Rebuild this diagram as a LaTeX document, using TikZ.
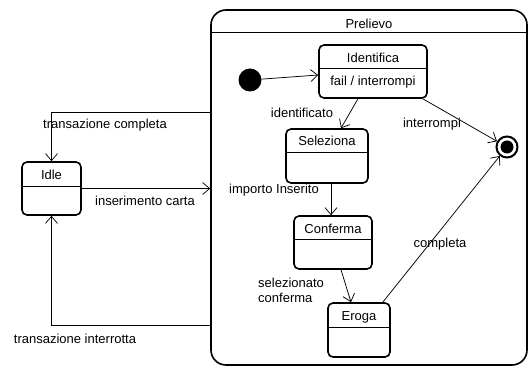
\documentclass[tikz,border=0pt]{standalone}
\usepackage{fontspec}
\setmainfont{Liberation Sans}
\usetikzlibrary{arrows.meta,calc}
\tikzset{
  statebox/.style={draw, line width=1.6pt, rounded corners=5pt, inner sep=0pt},
  sepline/.style={line width=0.7pt},
  trans/.style={draw, line width=0.75pt, -{Straight Barb[length=7pt,width=12pt,line width=0.75pt]}},
  lbl/.style={font=\fontsize{13}{15}\selectfont, inner sep=0pt},
}
\begin{document}
\begin{tikzpicture}[x=1pt,y=-1pt]
\useasboundingbox (0,0) rectangle (528,366);
% composite state
\node[draw, line width=1.6pt, rounded corners=15pt, inner sep=0pt, minimum width=316pt, minimum height=355pt] (prel) at (369,187.5) {};
\draw[sepline] ($(prel.north west)+(0,23)$) -- ($(prel.north east)+(0,23)$);
\node[lbl] (prelT) at (369,24) {Prelievo};
% Idle
\node[statebox, minimum width=59pt, minimum height=53pt] (idle) at (51.5,188.5) {};
\draw[sepline] ($(idle.north west)+(0,25)$) -- ($(idle.north east)+(0,25)$);
\node[lbl] (idleT) at (51.5,175) {Idle};
% Identifica
\node[statebox, minimum width=108pt, minimum height=53pt] (ident) at (373,71.5) {};
\draw[sepline] ($(ident.north west)+(0,24)$) -- ($(ident.north east)+(0,24)$);
\node[lbl] (identT) at (373,58) {Identifica};
\node[lbl] (identB) at (373,82.5) {fail / interrompi};
% Seleziona
\node[statebox, minimum width=82pt, minimum height=54pt] (sel) at (327,156) {};
\draw[sepline] ($(sel.north west)+(0,24)$) -- ($(sel.north east)+(0,24)$);
\node[lbl] (selT) at (327,141) {Seleziona};
% Conferma
\node[statebox, minimum width=78pt, minimum height=53pt] (conf) at (333,242.5) {};
\draw[sepline] ($(conf.north west)+(0,24)$) -- ($(conf.north east)+(0,24)$);
\node[lbl] (confT) at (333,229) {Conferma};
% Eroga
\node[statebox, minimum width=62pt, minimum height=54pt] (eroga) at (359,330) {};
\draw[sepline] ($(eroga.north west)+(0,25)$) -- ($(eroga.north east)+(0,25)$);
\node[lbl] (erogaT) at (359,317) {Eroga};
% initial and final
\node[circle, fill=black, minimum size=23pt, inner sep=0pt] (init) at (250,80) {};
\node[circle, draw, line width=2pt, minimum size=21pt, inner sep=0pt] (fin) at (507,147) {};
\node[circle, fill=black, minimum size=13pt, inner sep=0pt] (finC) at (fin) {};
% anchor coordinates on the composite border
\coordinate (pc) at ($(prel.north west)+(0,103)$);
\coordinate (pi) at ($(prel.north west)+(0,316)$);
% transitions
\draw[trans] (init) -- ($(ident.west)+(0,3.5)$);
\draw[trans] ($(ident.south)+(-15,0)$) -- ($(sel.north)+(14,0)$);
\draw[trans] ($(ident.south east)+(-5,0)$) -- (fin);
\draw[trans] ($(sel.south)+(4,0)$) -- ($(conf.north)+(-2,0)$);
\draw[trans] ($(conf.south)+(8,0)$) -- ($(eroga.north)+(-8,0)$);
\draw[trans] ($(eroga.north east)+(-8,0)$) -- (fin);
\draw[trans] (pc) -| (idle.north);
\draw[trans] (idle.east) -- (idle.east -| prel.west);
\draw[trans] (pi) -| (idle.south);
% labels
\node[lbl] (l1) at (105,125) {transazione completa};
\node[lbl] (l2) at (145,201) {inserimento carta};
\node[lbl] (l3) at (75,339) {transazione interrotta};
\node[lbl] (l4) at (302,113) {identificato};
\node[lbl] (l5) at (432,124) {interrompi};
\node[lbl] (l6) at (274,190) {importo Inserito};
\node[lbl, align=left, anchor=west] (l7) at (258,290) {selezionato\\conferma};
\node[lbl] (l8) at (440,244) {completa};
\end{tikzpicture}
\end{document}
